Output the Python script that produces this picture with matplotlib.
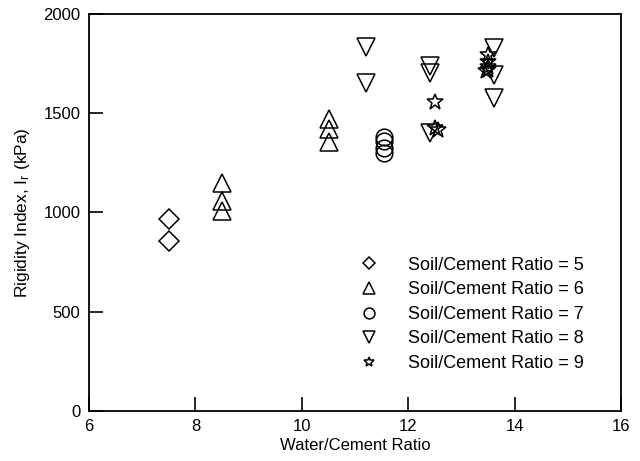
import matplotlib
matplotlib.use("Agg")
import matplotlib.pyplot as plt

plt.rcParams['font.family'] = ['Liberation Sans', 'DejaVu Sans']
plt.rcParams['mathtext.default'] = 'regular'

# soil/cement ratio = 5
x5 = [7.5, 7.5]
y5 = [968, 855]
# soil/cement ratio = 6
x6 = [8.5, 8.5, 8.5, 10.5, 10.5, 10.5]
y6 = [1150, 1055, 1005, 1470, 1420, 1355]
# soil/cement ratio = 7
x7 = [11.55, 11.55, 11.55, 11.55]
y7 = [1380, 1360, 1322, 1298]
# soil/cement ratio = 8
x8 = [11.2, 11.2, 12.4, 12.4, 12.4, 13.6, 13.6, 13.6]
y8 = [1832, 1650, 1738, 1702, 1399, 1830, 1690, 1576]
# soil/cement ratio = 9
x9 = [12.5, 12.5, 12.55, 13.5, 13.5, 13.5, 13.5, 13.45]
y9 = [1556, 1424, 1416, 1792, 1758, 1734, 1718, 1710]

xticks = [6, 8, 10, 12, 14, 16]
yticks = [0, 500, 1000, 1500, 2000]

fig = plt.figure(figsize=(6.4, 4.61), dpi=100)
ax = fig.add_axes([0.139, 0.109, 0.832, 0.861])

kw = dict(ls='none', mfc='none', mec='black', mew=1.1)
ax.plot(x5, y5, 'D', ms=10, label='Soil/Cement Ratio = 5', **kw)
ax.plot(x6, y6, '^', ms=13, label='Soil/Cement Ratio = 6', **kw)
ax.plot(x7, y7, 'o', ms=12, label='Soil/Cement Ratio = 7', **kw)
ax.plot(x8, y8, 'v', ms=13, label='Soil/Cement Ratio = 8', **kw)
ax.plot(x9, y9, '*', ms=12, label='Soil/Cement Ratio = 9', **kw)

ax.set_xlim(6, 16)
ax.set_ylim(0, 2000)
ax.set_xticks(xticks)
ax.set_yticks(yticks)
ax.tick_params(direction='in', length=10, width=1.2, labelsize=12,
               top=False, right=False)
ax.tick_params(axis='x', pad=6)
ax.tick_params(axis='y', pad=6)
for s in ax.spines.values():
    s.set_linewidth(1.3)

ax.set_xlabel('Water/Cement Ratio', fontsize=12, labelpad=3)
ax.set_ylabel('Rigidity Index, I$_r$ (kPa)', fontsize=12.5, labelpad=8)

ax.legend(loc='upper left', bbox_to_anchor=(0.501, 0.388), frameon=False,
          fontsize=13, markerscale=0.65, numpoints=1, handlelength=1.5,
          handletextpad=1.4, borderpad=0, borderaxespad=0, labelspacing=0.42)

fig.savefig('out.png', dpi=100)
